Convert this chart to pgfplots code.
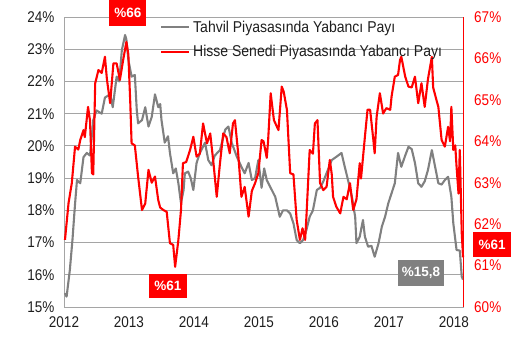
\documentclass[border=0pt]{standalone}
\usepackage{fontspec}
\setmainfont{Liberation Sans}
\usepackage{pgfplots}
\pgfplotsset{compat=1.18}
\definecolor{tgray}{RGB}{128,128,128}
\definecolor{tred}{RGB}{255,0,0}
\definecolor{gridc}{RGB}{165,165,165}
\definecolor{txt}{RGB}{30,30,30}
\begin{document}
\begin{tikzpicture}
\pgfplotsset{
 base/.style={scale only axis, width=399.7pt, height=290pt, xmin=2012, xmax=2018.15, clip=false,
   major tick length=0pt, tick style={draw=none},
   tick label style={font=\fontsize{13.5}{15}\selectfont, yscale=1.15},
 }
}
\begin{axis}[base, name=ax, ymin=15, ymax=24, ytick={15,...,24},
  yticklabels={15\%,16\%,17\%,18\%,19\%,20\%,21\%,22\%,23\%,24\%},
  xtick={2012,...,2018}, xticklabels={2012,2013,2014,2015,2016,2017,2018},
  axis x line*=bottom, axis y line*=left,
  axis line style={draw=gridc, line width=0.9pt},
  ymajorgrids, grid style={draw=gridc, line width=0.9pt},
  xticklabel style={yshift=-5pt, text=txt}, yticklabel style={xshift=-6pt, text=txt}]
\addplot[tgray, line width=2.1pt, line join=round] coordinates {
(2012.015,15.43)(2012.04,15.32)(2012.09,16.15)(2012.13,17.08)(2012.17,18.2)(2012.20,18.94)
(2012.25,18.84)(2012.30,19.65)(2012.35,19.78)(2012.40,19.7)(2012.45,20.8)(2012.50,21.1)
(2012.58,21.0)(2012.63,21.5)(2012.71,21.6)(2012.75,21.2)(2012.81,22.15)(2012.85,22.0)
(2012.89,22.97)(2012.94,23.44)(2012.96,23.3)(2012.99,22.67)(2013.04,22.15)(2013.09,22.2)
(2013.12,21.1)(2013.14,20.7)(2013.20,20.8)(2013.25,21.2)(2013.30,20.6)(2013.35,20.9)
(2013.40,21.6)(2013.45,21.2)(2013.48,21.3)(2013.50,20.8)(2013.55,20.1)(2013.60,20.3)
(2013.63,19.78)(2013.68,19.15)(2013.72,19.3)(2013.76,18.84)(2013.80,18.22)(2013.84,18.63)
(2013.86,19.15)(2013.91,19.2)(2013.95,19.0)(2013.99,18.63)(2014.04,19.47)(2014.09,19.78)
(2014.17,20.1)(2014.22,19.56)(2014.27,19.4)(2014.32,19.7)(2014.40,19.87)(2014.48,20.5)
(2014.53,20.6)(2014.58,20.1)(2014.66,19.66)(2014.73,19.35)(2014.78,19.15)(2014.84,19.47)
(2014.89,18.94)(2014.94,19.0)(2014.99,19.56)(2015.04,18.7)(2015.08,19.3)(2015.12,18.94)
(2015.25,18.42)(2015.32,17.8)(2015.37,18.0)(2015.43,18.0)(2015.48,17.9)(2015.53,17.6)
(2015.58,17.08)(2015.63,16.98)(2015.68,17.08)(2015.73,17.39)(2015.78,17.8)(2015.83,18.0)
(2015.89,18.63)(2015.94,18.7)(2015.99,18.9)(2016.04,19.15)(2016.12,19.56)(2016.19,19.66)
(2016.27,19.78)(2016.32,19.35)(2016.37,18.94)(2016.43,18.42)(2016.48,17.8)(2016.50,16.98)
(2016.55,17.18)(2016.60,17.7)(2016.63,17.18)(2016.68,16.87)(2016.73,16.9)(2016.78,16.56)
(2016.84,16.98)(2016.89,17.49)(2016.94,17.8)(2016.99,18.22)(2017.04,18.53)(2017.09,18.84)
(2017.14,19.78)(2017.19,19.35)(2017.25,19.7)(2017.30,19.97)(2017.35,19.9)(2017.40,19.47)
(2017.45,18.84)(2017.50,18.73)(2017.55,18.9)(2017.60,19.25)(2017.66,19.87)(2017.71,19.35)
(2017.76,18.84)(2017.81,18.8)(2017.86,18.94)(2017.91,19.04)(2017.96,18.42)(2017.99,17.6)
(2018.04,16.77)(2018.09,16.75)(2018.12,15.94)(2018.14,15.85)
};
\end{axis}
\begin{axis}[base, ymin=60, ymax=67, ytick={60,...,67},
  yticklabels={60\%,61\%,62\%,63\%,64\%,65\%,66\%,67\%},
  axis y line*=right, axis x line=none,
  y axis line style={draw=tred, line width=1pt},
  yticklabel style={text=tred, xshift=7pt},
  legend style={at={(0.24,0.995)}, anchor=north west, draw=none, fill=none,
    font=\fontsize{14}{16}\selectfont, text=txt, row sep=7pt, inner sep=0pt,
    nodes={yscale=1.12, inner xsep=3pt},
    cells={anchor=west}},
  legend cell align=left,
  legend image code/.code={\draw[#1, line width=2.1pt] (0pt,0pt) -- (28pt,0pt);}]
\addlegendimage{tgray}
\addlegendentry{Tahvil Piyasasında Yabancı Payı}
\addplot[tred, line width=2.1pt, line join=round] coordinates {
(2012.015,61.62)(2012.07,62.51)(2012.12,62.99)(2012.17,63.87)(2012.22,63.8)(2012.25,64.03)
(2012.30,64.27)(2012.32,64.1)(2012.37,64.83)(2012.40,64.5)(2012.43,63.23)(2012.45,63.2)
(2012.48,65.4)(2012.53,65.72)(2012.58,65.65)(2012.63,66.04)(2012.66,65.5)(2012.71,64.92)
(2012.76,65.88)(2012.81,65.88)(2012.86,65.48)(2012.91,65.96)(2012.96,66.4)(2012.99,66.1)
(2013.02,64.92)(2013.04,63.95)(2013.09,63.9)(2013.14,63.15)(2013.20,62.34)(2013.25,62.5)
(2013.30,63.31)(2013.35,63.0)(2013.40,63.15)(2013.45,62.58)(2013.48,62.4)(2013.53,62.34)
(2013.58,62.3)(2013.63,61.54)(2013.68,61.5)(2013.71,60.97)(2013.76,61.62)(2013.80,62.34)
(2013.83,63.47)(2013.88,63.5)(2013.94,63.79)(2013.99,64.11)(2014.04,63.63)(2014.09,63.7)
(2014.14,64.43)(2014.20,63.95)(2014.25,64.19)(2014.30,63.47)(2014.35,62.66)(2014.40,63.47)
(2014.45,64.19)(2014.50,64.1)(2014.55,63.71)(2014.60,64.43)(2014.63,64.51)(2014.68,63.71)
(2014.73,62.66)(2014.78,62.9)(2014.84,62.18)(2014.89,62.8)(2014.94,62.99)(2014.99,63.23)
(2015.04,64.03)(2015.07,64.0)(2015.12,63.6)(2015.14,64.0)(2015.18,65.16)(2015.23,64.51)
(2015.30,64.27)(2015.35,65.32)(2015.38,65.2)(2015.43,64.76)(2015.48,63.23)(2015.53,63.2)
(2015.58,62.1)(2015.63,61.62)(2015.67,61.9)(2015.71,61.62)(2015.73,62.18)(2015.78,63.79)
(2015.83,63.7)(2015.86,64.43)(2015.90,64.51)(2015.94,62.99)(2015.99,62.82)(2016.04,62.9)
(2016.09,63.55)(2016.12,63.2)(2016.14,62.66)(2016.19,62.42)(2016.25,62.26)(2016.30,62.66)
(2016.35,62.6)(2016.40,62.99)(2016.45,62.34)(2016.50,62.6)(2016.55,63.47)(2016.57,63.1)
(2016.63,64.11)(2016.67,64.76)(2016.71,64.76)(2016.76,64.03)(2016.78,63.71)(2016.81,64.59)
(2016.86,65.16)(2016.91,64.67)(2016.96,64.8)(2017.02,64.76)(2017.04,65.08)(2017.09,65.56)
(2017.14,65.6)(2017.17,65.96)(2017.19,66.04)(2017.25,65.56)(2017.30,65.32)(2017.35,65.3)
(2017.40,65.56)(2017.45,64.92)(2017.50,65.4)(2017.55,64.83)(2017.60,65.5)(2017.66,66.04)
(2017.68,65.3)(2017.73,65.0)(2017.76,64.83)(2017.81,64.03)(2017.86,63.87)(2017.91,64.35)
(2017.94,64.0)(2017.96,64.83)(2017.99,63.79)(2018.02,63.9)(2018.04,63.39)(2018.07,62.74)
(2018.09,63.79)(2018.12,61.78)(2018.14,61.2)
};
\addlegendentry{Hisse Senedi Piyasasında Yabancı Payı}
\node[fill=tred, text=white, font=\bfseries\fontsize{13.5}{15}\selectfont, inner sep=0pt, minimum width=37pt, minimum height=27pt] at (rel axis cs:0.160,1.014) {\%66};
\node[fill=tred, text=white, font=\bfseries\fontsize{13.5}{15}\selectfont, inner sep=0pt, minimum width=38pt, minimum height=24pt] at (rel axis cs:0.260,0.0724) {\%61};
\node[fill=tgray, text=white, font=\bfseries\fontsize{13.5}{15}\selectfont, inner sep=0pt, minimum width=46pt, minimum height=26pt] at (rel axis cs:0.893,0.117) {\%15,8};
\node[fill=tred, text=white, font=\bfseries\fontsize{13.5}{15}\selectfont, inner sep=0pt, minimum width=38pt, minimum height=25pt] at (rel axis cs:1.071,0.214) {\%61};
\end{axis}
\pgfresetboundingbox
\path[use as bounding box] ([shift={(-64pt,-50pt)}]ax.south west) rectangle ([shift={(52.3pt,17pt)}]ax.north east);
\end{tikzpicture}
\end{document}
